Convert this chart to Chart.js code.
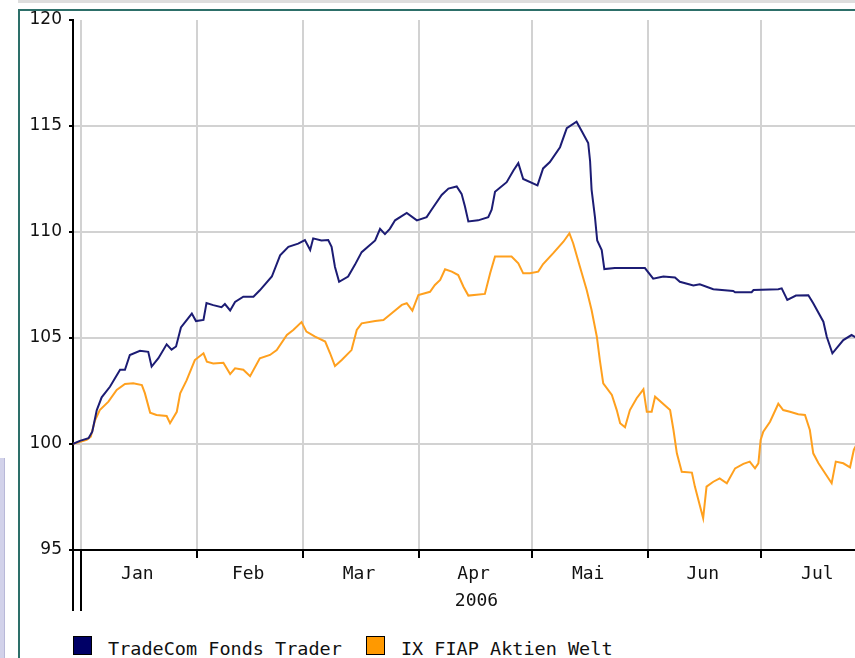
<!DOCTYPE html>
<html>
<head>
<meta charset="utf-8">
<script src="https://cdn.jsdelivr.net/npm/chart.js@4/dist/chart.umd.min.js"></script>
<style>
  html, body { margin: 0; padding: 0; background: #fff; }
  body { width: 855px; height: 658px; overflow: hidden; position: relative; }
  #topStrip { position: absolute; left: 18px; top: 0; width: 900px; height: 3px; background: #dedede; }
  #frame { position: absolute; left: 18px; top: 9px; width: 900px; height: 700px;
           border-left: 2px solid #2d6f69; border-top: 2px solid #2d6f69; }
  #sideBar { position: absolute; left: 0; top: 458px; width: 4px; height: 200px;
             background: #d2d2ea; border-right: 1px solid #b8b8d8; }
  #chart { position: absolute; left: 0; top: 0; }
  #legend { position: absolute; left: 73px; top: 635px; display: flex; align-items: center;
            font-family: "DejaVu Sans Mono", monospace; font-size: 18.5px; color: #111; }
  .item { display: flex; align-items: center; margin-right: 24px; }
  .item span:last-child { position: relative; top: 3px; }
  .box { width: 19px; height: 19px; box-sizing: border-box; border: 1px solid #000; margin-right: 16px; }
</style>
</head>
<body>
<div id="topStrip"></div>
<div id="sideBar"></div>
<div id="frame"></div>
<canvas id="chart" width="900" height="620"></canvas>
<div id="legend"></div>

<script>
// Series names and colours
const seriesNames = ['TradeCom Fonds Trader', 'IX FIAP Aktien Welt'];
const lineColors = ['#1c1c74', '#ffa01e'];
const boxColors = ['#000066', '#ff9900'];

// x axis: days since 1 Jan 2006
const monthStarts = [0, 31, 59, 90, 120, 151, 181, 212];
const monthMiddles = [15, 44.5, 74, 104.5, 135, 165.5, 196];
const monthLabels = ['Jan', 'Feb', 'Mar', 'Apr', 'Mai', 'Jun', 'Jul'];
const yearLabel = '2006';

// TradeCom Fonds Trader (indexed, 100 = start)
const tradeDays = [
  -2.2, -0.3, 2, 3, 4.2, 5.5, 7.7, 10.4, 11.7, 13, 15.7, 17.9, 18.8, 20.6, 22.8, 24.1, 25.3,
  26.6, 29.5, 30.6, 32.6, 33.4, 35.2, 37.4, 38.3, 39.7, 41, 43.2, 45.9, 47.6, 50.8, 53, 55.2,
  57.8, 59.6, 61, 61.8, 64, 65.8, 66.7, 67.6, 68.7, 71.1, 72.9, 74.7, 78.3, 79.6, 80.9, 82.2,
  83.6, 86.7, 89.4, 92, 93.3, 96, 97.8, 100, 101.3, 102.2, 103.1, 105.7, 108.4, 109.3, 110.2,
  113.3, 115.1, 116.4, 117.7, 121.5, 123, 124.8, 127.5, 129.3, 131.9, 133.3, 135, 135.5, 135.9,
  136.8, 137.4, 138.6, 139.3, 142.1, 150.1, 152.3, 155, 158.1, 159.4, 163, 164.7, 168.3, 173.6,
  174.1, 178.5, 179, 185.6, 186.5, 188, 190.3, 193.6, 194.9, 197.6, 198.5, 200, 202.9, 205.1, 206.5
];
const tradeValues = [
  100.0, 100.15, 100.27, 100.58, 101.6, 102.2, 102.7, 103.5, 103.5, 104.2, 104.4, 104.35, 103.65, 104.05, 104.7, 104.45, 104.6,
  105.5, 106.15, 105.8, 105.85, 106.65, 106.55, 106.45, 106.6, 106.3, 106.7, 106.95, 106.95, 107.25, 107.9, 108.9, 109.3,
  109.45, 109.62, 109.15, 109.7, 109.6, 109.62, 109.3, 108.35, 107.65, 107.9, 108.45, 109.05, 109.6, 110.15, 109.9, 110.15,
  110.55, 110.9, 110.55, 110.7, 111.05, 111.75, 112.05, 112.15, 111.8, 111.2, 110.5, 110.55, 110.7, 111.05, 111.9,
  112.35, 112.9, 113.25, 112.5, 112.2, 113.0, 113.3, 114.0, 114.9, 115.2, 114.75, 114.2, 113.35, 112.0,
  110.7, 109.6, 109.15, 108.25, 108.3, 108.3, 107.8, 107.9, 107.85, 107.65, 107.48, 107.53, 107.3, 107.22,
  107.16, 107.16, 107.26, 107.3, 107.34, 106.8, 107.0, 107.02, 106.64, 105.77, 105.06, 104.28, 104.9, 105.14, 105.0
];

// IX FIAP Aktien Welt (indexed, 100 = start)
const fiapDays = [
  -2.2, 1.5, 2.6, 3.7, 5, 7.3, 9.5, 11.7, 13.9, 16.2, 17, 18.4, 20.1, 22.8, 23.7, 25.5, 26.4,
  28.1, 30.3, 32.6, 33.5, 35.2, 37.9, 39.7, 41, 43.2, 45, 47.6, 50.3, 52.1, 54.8, 56.5, 58.7,
  60, 62.3, 65, 66.3, 67.6, 69.4, 72, 73.4, 74.7, 78.3, 80.5, 82.7, 85.4, 86.7, 88.2, 89.8,
  92.9, 94.2, 95.6, 96.9, 98.7, 100.4, 101.8, 103.1, 107.5, 108.9, 110.2, 114.6, 116.4, 117.7,
  119.5, 121.7, 123, 125.7, 128.4, 130, 131, 132.8, 134.6, 135.9, 137.3, 138.1, 139, 141.3,
  142.6, 143.5, 144.8, 146.1, 147.9, 149.7, 150.6, 151.9, 152.8, 156.8, 157.7, 158.6, 159.9,
  162.6, 163.4, 165.6, 166.5, 168.3, 170, 171.9, 174.1, 176.3, 178, 179.4, 180.3, 180.9, 181.6,
  183.4, 185.6, 186.9, 188.7, 190.9, 192.7, 194, 194.9, 196.3, 199.8, 200.9, 202.9, 204.7, 205.7, 206.5
];
const fiapValues = [
  100.0, 100.2, 100.35, 101.1, 101.6, 102.0, 102.55, 102.83, 102.86, 102.78, 102.4, 101.48, 101.37, 101.32, 100.98, 101.52, 102.39,
  103.0, 103.96, 104.28, 103.88, 103.8, 103.83, 103.3, 103.57, 103.5, 103.2, 104.04, 104.2, 104.43, 105.14, 105.38, 105.75,
  105.3, 105.06, 104.83, 104.28, 103.68, 103.96, 104.43, 105.38, 105.69, 105.8, 105.85, 106.17, 106.56, 106.64, 106.29, 107.03,
  107.18, 107.5, 107.74, 108.24, 108.13, 107.97, 107.42, 107.0, 107.08, 108.05, 108.84, 108.84, 108.52, 108.05,
  108.05, 108.13, 108.49, 109.0, 109.54, 109.94, 109.47, 108.36, 107.26, 106.32, 105.06, 103.96, 102.86, 102.31,
  101.6, 100.98, 100.79, 101.6, 102.16, 102.58, 101.52, 101.52, 102.23, 101.6, 100.66, 99.56, 98.69,
  98.65, 97.99, 96.5, 97.99, 98.22, 98.38, 98.15, 98.85, 99.06, 99.17, 98.85, 99.09, 100.19, 100.58,
  101.05, 101.9, 101.6, 101.52, 101.4, 101.37, 100.66, 99.56, 99.09, 98.15, 99.17, 99.09, 98.9, 99.72, 100.0
];

const xMin = -2.13;
const xMax = 212.67;
const gridGray = '#d2d2d2';

// extends the y axis and the first month line below the x axis
const axisBrackets = {
  id: 'axisBrackets',
  afterDraw(chart) {
    const c = chart.ctx;
    const area = chart.chartArea;
    const xJan = chart.scales.x.getPixelForValue(0);
    c.save();
    c.strokeStyle = '#000';
    c.lineWidth = 2;
    c.beginPath();
    c.moveTo(area.left, area.bottom);
    c.lineTo(area.left, 611);
    c.moveTo(xJan, area.bottom);
    c.lineTo(xJan, 611);
    c.stroke();
    c.restore();
  }
};

function pairs(xs, ys) {
  return xs.map((x, i) => ({ x: x, y: ys[i] }));
}

const ctx = document.getElementById('chart').getContext('2d');

const chart = new Chart(ctx, {
  type: 'line',
  data: {
    datasets: [
      {
        label: seriesNames[0],
        data: pairs(tradeDays, tradeValues),
        borderColor: lineColors[0],
        backgroundColor: boxColors[0],
        borderWidth: 2,
        pointRadius: 0,
        tension: 0
      },
      {
        label: seriesNames[1],
        data: pairs(fiapDays, fiapValues),
        borderColor: lineColors[1],
        backgroundColor: boxColors[1],
        borderWidth: 2,
        pointRadius: 0,
        tension: 0
      }
    ]
  },
  options: {
    responsive: false,
    animation: false,
    layout: { padding: { top: 20, right: 20, left: 0, bottom: 0 } },
    plugins: { legend: { display: false }, tooltip: { enabled: false } },
    scales: {
      x: {
        type: 'linear',
        position: 'bottom',
        weight: 0,
        min: xMin,
        max: xMax,
        afterBuildTicks: s => { s.ticks = monthStarts.map(v => ({ value: v })); },
        ticks: { display: false },
        grid: { color: gridGray, lineWidth: 2, tickColor: '#000', tickLength: 8, tickWidth: 2 },
        border: { color: '#000', width: 2 },
        afterFit: s => { s.height = 8; }
      },
      months: {
        type: 'linear',
        position: 'bottom',
        weight: 1,
        min: xMin,
        max: xMax,
        afterBuildTicks: s => { s.ticks = monthMiddles.map(v => ({ value: v })); },
        ticks: {
          autoSkip: false,
          maxRotation: 0,
          padding: 6,
          color: '#111',
          font: { family: 'DejaVu Sans Mono', size: 18 },
          callback: (v, i) => monthLabels[i]
        },
        grid: { display: false, drawTicks: false },
        border: { display: false },
        title: {
          display: true,
          text: yearLabel,
          color: '#111',
          font: { family: 'DejaVu Sans Mono', size: 18 },
          padding: { top: 0, bottom: 8 }
        },
        afterFit: s => { s.height = 62; }
      },
      y: {
        min: 95,
        max: 120,
        ticks: {
          stepSize: 5,
          padding: 7,
          color: '#111',
          font: { family: 'DejaVu Sans', size: 17 }
        },
        grid: {
          color: c => (c.tick && c.tick.value === 120 ? 'rgba(0,0,0,0)' : gridGray),
          lineWidth: 2,
          tickColor: '#000',
          tickLength: 4,
          tickWidth: 2
        },
        border: { color: '#000', width: 2 },
        afterFit: s => { s.width = 73; }
      }
    }
  },
  plugins: [axisBrackets]
});

// Legend built from the datasets
const legend = document.getElementById('legend');
chart.data.datasets.forEach(ds => {
  const item = document.createElement('div');
  item.className = 'item';
  const box = document.createElement('span');
  box.className = 'box';
  box.style.background = ds.backgroundColor;
  const text = document.createElement('span');
  text.textContent = ds.label;
  item.appendChild(box);
  item.appendChild(text);
  legend.appendChild(item);
});
</script>
</body>
</html>
